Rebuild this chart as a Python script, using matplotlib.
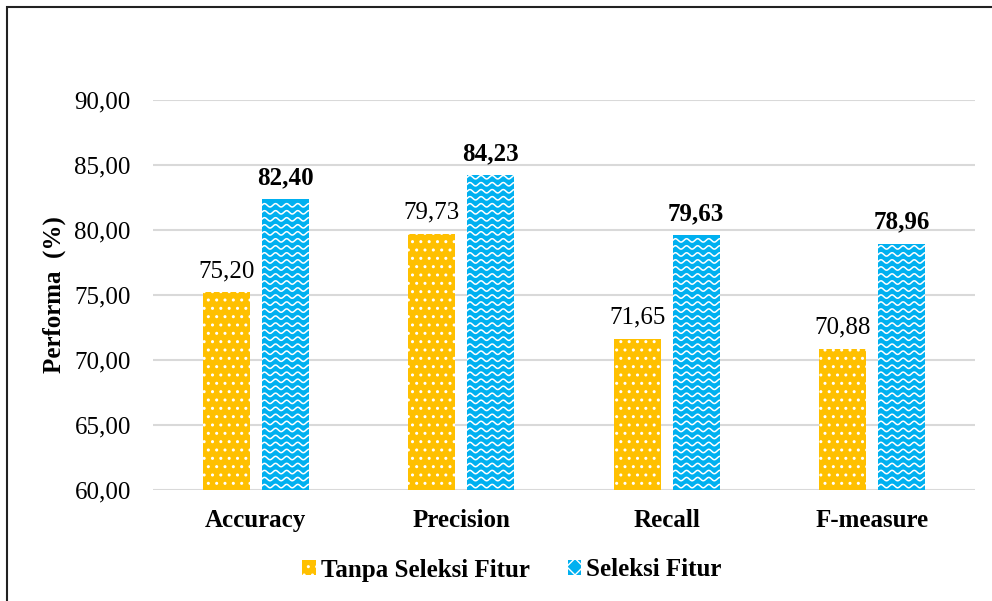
import numpy as np
import matplotlib
matplotlib.use("Agg")
import matplotlib.pyplot as plt
from matplotlib.patches import Patch, Rectangle
from matplotlib.lines import Line2D

plt.rcParams['font.family'] = ['Liberation Serif', 'DejaVu Serif']
plt.rcParams['hatch.linewidth'] = 1.0

categories = ["Accuracy", "Precision", "Recall", "F-measure"]
tanpa_seleksi = [75.20, 79.73, 71.65, 70.88]
seleksi_fitur = [82.40, 84.23, 79.63, 78.96]
series_names = ["Tanpa Seleksi Fitur", "Seleksi Fitur"]
yticks = [60, 65, 70, 75, 80, 85, 90]

orange = "#FFC000"
blue = "#00B0F0"

fig = plt.figure(figsize=(9.92, 6.01), dpi=100)
ax = fig.add_axes([153 / 992, 1 - 490 / 601, (975 - 153) / 992, 390 / 601])

x = np.arange(len(categories))
w = 0.229
off = 0.1435

b1 = ax.bar(x - off, np.array(tanpa_seleksi) - 60, w, bottom=60, color=orange,
            edgecolor="white", linewidth=0, hatch="..", zorder=2)
b2 = ax.bar(x + off, np.array(seleksi_fitur) - 60, w, bottom=60, color=blue,
            linewidth=0, zorder=2)

# wavy white lines inside the blue bars
for rect in b2:
    x0, x1 = rect.get_x(), rect.get_x() + rect.get_width()
    top = rect.get_y() + rect.get_height()
    xs = np.linspace(x0, x1, 200)
    for yb in np.arange(60.3, top, 0.54):
        ys = yb + 0.13 * np.sin(2 * np.pi * (xs - x0) / 0.054)
        ln = Line2D(xs, ys, color="white", lw=1.1, zorder=3)
        ax.add_line(ln)
        ln.set_clip_path(rect)

for xi, v in zip(x, tanpa_seleksi):
    ax.annotate(f"{v:.2f}".replace(".", ","), (xi - off, v), xytext=(0, 7),
                textcoords="offset points", ha="center", va="bottom", fontsize=18)
for xi, v in zip(x, seleksi_fitur):
    ax.annotate(f"{v:.2f}".replace(".", ","), (xi + off, v), xytext=(0, 7),
                textcoords="offset points", ha="center", va="bottom",
                fontsize=18, fontweight="bold")

ax.set_ylim(60, 90)
ax.set_xlim(-0.5, len(categories) - 0.5)
ax.set_yticks(yticks)
ax.set_yticklabels([f"{t:.2f}".replace(".", ",") for t in yticks], fontsize=18)
ax.set_xticks(x)
ax.set_xticklabels(categories, fontsize=18, fontweight="bold")
ax.tick_params(axis="both", length=0)
ax.tick_params(axis="y", pad=16)
ax.tick_params(axis="x", pad=14)
ax.grid(axis="y", color="#d9d9d9", lw=1.5, zorder=0)
ax.set_axisbelow(True)
for s in ax.spines.values():
    s.set_visible(False)
ax.set_ylabel("Performa  (%)", fontsize=18, fontweight="bold", labelpad=6)

handles = [Patch(facecolor=orange, edgecolor="white", linewidth=0, hatch=".."),
           Patch(facecolor=blue, edgecolor="white", linewidth=0, hatch="xx")]
fig.legend(handles, series_names, loc="center", bbox_to_anchor=(512 / 992, 1 - 570 / 601),
           ncol=2, frameon=False, prop={"weight": "bold", "size": 18},
           handlelength=0.55, handleheight=0.55, handletextpad=0.2, columnspacing=1.5)

# outer frame
fig.add_artist(Rectangle((7 / 992, -0.1), 1.2, 1 - 7 / 601 + 0.1, transform=fig.transFigure,
                         fill=False, edgecolor="#222222", lw=1.5))

fig.savefig("out.png", dpi=100)
